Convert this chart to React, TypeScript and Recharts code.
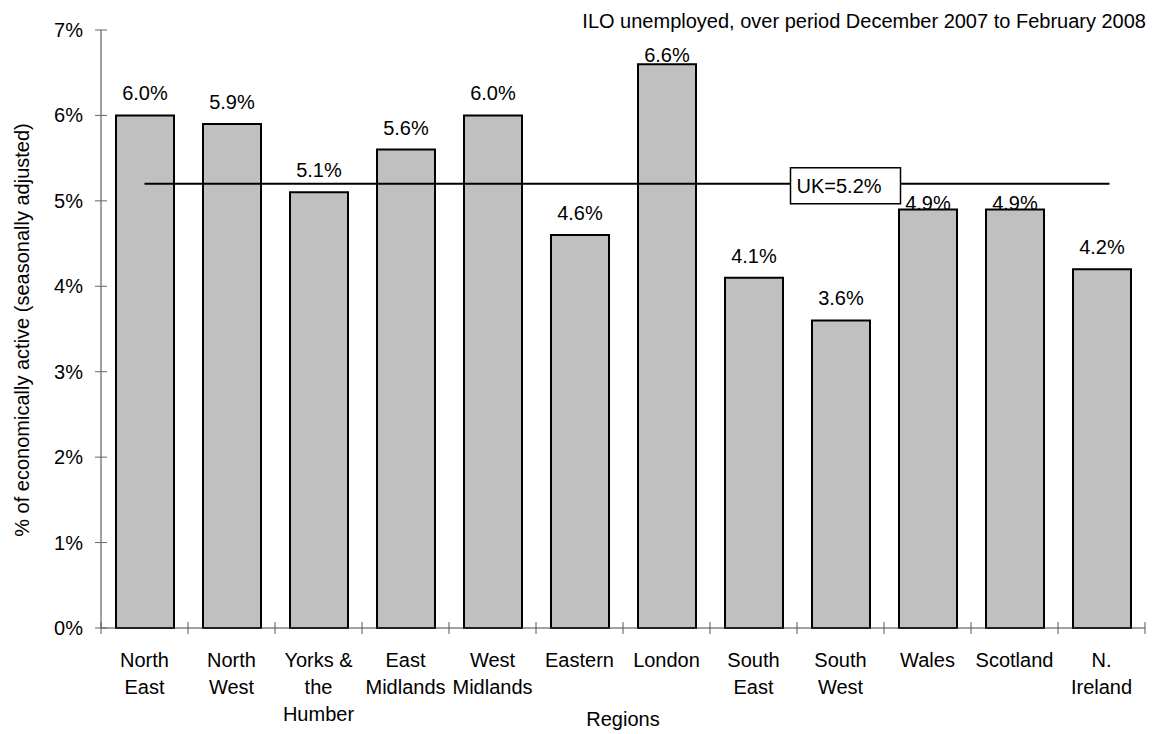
import React from "react";
import {
  BarChart,
  Bar,
  XAxis,
  YAxis,
  LabelList,
  ReferenceLine,
  ReferenceDot,
} from "recharts";

const regions = [
  "North East",
  "North West",
  "Yorks & the Humber",
  "East Midlands",
  "West Midlands",
  "Eastern",
  "London",
  "South East",
  "South West",
  "Wales",
  "Scotland",
  "N. Ireland",
];
const unemploymentRate = [6.0, 5.9, 5.1, 5.6, 6.0, 4.6, 6.6, 4.1, 3.6, 4.9, 4.9, 4.2];
const tickLines = [
  ["North", "East"],
  ["North", "West"],
  ["Yorks &", "the", "Humber"],
  ["East", "Midlands"],
  ["West", "Midlands"],
  ["Eastern"],
  ["London"],
  ["South", "East"],
  ["South", "West"],
  ["Wales"],
  ["Scotland"],
  ["N.", "Ireland"],
];
const yTicks = [0, 1, 2, 3, 4, 5, 6, 7];
const ukRate = 5.2;
const title = "ILO unemployed, over period December 2007 to February 2008";

const W = 1158;
const H = 734;
const FONT = "'Liberation Sans', Arial, sans-serif";
const AXIS_X = 101;
const PLOT_TOP = 30;
const PLOT_BOTTOM = 628;
const PLOT_RIGHT = 1145;
const BAND = (PLOT_RIGHT - AXIS_X) / regions.length;

// labels that Excel pushed down onto the bar top
const tightGap: Record<string, number> = { London: 2, Wales: -1, Scotland: -1 };

const data = regions.map((r, i) => ({ region: r, value: unemploymentRate[i] }));

function XTick(props: any) {
  const { x, payload, index } = props;
  const lines = tickLines[index] || [payload.value];
  const left = x - BAND / 2;
  return (
    <g>
      <line x1={left} x2={left} y1={PLOT_BOTTOM - 6} y2={PLOT_BOTTOM + 6} stroke="#555" strokeWidth={1} />
      {index === regions.length - 1 && (
        <line x1={left + BAND} x2={left + BAND} y1={PLOT_BOTTOM - 6} y2={PLOT_BOTTOM + 6} stroke="#555" strokeWidth={1} />
      )}
      <text x={x} y={PLOT_BOTTOM + 39} textAnchor="middle" fontSize={20} fontFamily={FONT} fill="#000">
        {lines.map((l: string, i: number) => (
          <tspan key={i} x={x} dy={i === 0 ? 0 : 27}>
            {l}
          </tspan>
        ))}
      </text>
    </g>
  );
}

function YTick(props: any) {
  const { y, payload } = props;
  return (
    <g>
      <line x1={AXIS_X - 6} x2={AXIS_X + 6} y1={y} y2={y} stroke="#666" strokeWidth={1} />
      <text x={AXIS_X - 18} y={y} dy="0.35em" textAnchor="end" fontSize={20} fontFamily={FONT} fill="#000">
        {payload.value}%
      </text>
    </g>
  );
}

function ValueLabel(props: any) {
  const { x, y, width, value, index } = props;
  const gap = tightGap[regions[index]] ?? 15;
  return (
    <text x={x + width / 2} y={y - gap} textAnchor="middle" fontSize={20} fontFamily={FONT} fill="#000">
      {Number(value).toFixed(1)}%
    </text>
  );
}

function UkBox(props: any) {
  const { cx, cy } = props;
  return (
    <g>
      <rect x={cx - 50} y={cy - 16} width={110} height={36} fill="#fff" stroke="#000" strokeWidth={1.5} />
      <text x={cx - 44} y={cy + 9} fontSize={20} fontFamily={FONT} fill="#000">
        UK={ukRate.toFixed(1)}%
      </text>
    </g>
  );
}

function UkLine(props: any) {
  const { x1, y1, x2, y2 } = props;
  return <line x1={x1} y1={y1} x2={x2 + 8} y2={y2} stroke="#000" strokeWidth={2} />;
}

export default function App() {
  return (
    <div style={{ position: "absolute", left: 0, top: 0, width: W, height: H, background: "#fff" }}>
      <BarChart
        width={W}
        height={H}
        data={data}
        margin={{ top: PLOT_TOP, right: W - PLOT_RIGHT, left: 0, bottom: 0 }}
        barSize={58}
      >
        <XAxis
          dataKey="region"
          height={H - PLOT_BOTTOM}
          axisLine={{ stroke: "#444", strokeWidth: 1 }}
          tickLine={false}
          tick={<XTick />}
          interval={0}
        />
        <YAxis
          width={AXIS_X}
          domain={[0, 7]}
          ticks={yTicks}
          axisLine={{ stroke: "#808080", strokeWidth: 1.5 }}
          tickLine={false}
          tick={<YTick />}
          interval={0}
        />
        <Bar dataKey="value" fill="#c0c0c0" stroke="#000" strokeWidth={2} isAnimationActive={false}>
          <LabelList dataKey="value" content={<ValueLabel />} />
        </Bar>
        <ReferenceLine
          segment={[
            { x: regions[0], y: ukRate },
            { x: regions[regions.length - 1], y: ukRate },
          ]}
          shape={<UkLine />}
          ifOverflow="visible"
        />
        <ReferenceDot x="South West" y={ukRate} shape={<UkBox />} ifOverflow="visible" />
        <text x={1146} y={28} textAnchor="end" fontSize={20} fontFamily={FONT} fill="#000">
          {title}
        </text>
        <text
          x={22}
          y={330}
          transform="rotate(-90 22 330)"
          textAnchor="middle"
          dy="0.35em"
          fontSize={20}
          fontFamily={FONT}
          fill="#000"
        >
          % of economically active (seasonally adjusted)
        </text>
        <text x={(AXIS_X + PLOT_RIGHT) / 2} y={726} textAnchor="middle" fontSize={20} fontFamily={FONT} fill="#000">
          Regions
        </text>
      </BarChart>
    </div>
  );
}
